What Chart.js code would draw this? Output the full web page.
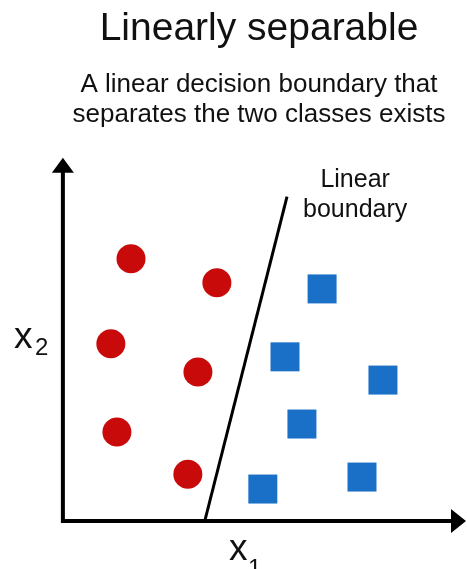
<!DOCTYPE html>
<html lang="en">

<head>
  <meta charset="UTF-8">
  <script src="https://cdn.jsdelivr.net/npm/chart.js@4.4.1/dist/chart.umd.min.js"></script>
  <title>Linearly separable</title>
  <style>
    body { margin: 0; background: #fff; }
  </style>
</head>

<body>
  <canvas id="myChart" width="467" height="569"></canvas>
  <script>
    // class 1 (red circles)
    const redX = [1.69, 3.82, 1.19, 3.35, 1.34, 3.10];
    const redY = [7.22, 6.56, 4.88, 4.10, 2.45, 1.29];
    // class 2 (blue squares)
    const blueX = [6.43, 5.51, 7.94, 5.93, 7.42, 4.96];
    const blueY = [6.39, 4.52, 3.88, 2.67, 1.21, 0.88];
    // decision boundary end points
    const boundaryX = [3.52, 5.56];
    const boundaryY = [0, 8.93];

    const titleText = 'Linearly separable';
    const subtitleText = ['A linear decision boundary that', 'separates the two classes exists'];
    const boundaryLabel = ['Linear', 'boundary'];
    const labelPos = { x: 7.25, y: 9.2 };

    const toPoints = (xs, ys) => xs.map((x, i) => ({ x: x, y: ys[i] }));
    const font = 'Liberation Sans, Arial, sans-serif';

    // axes with arrow heads + axis/boundary labels
    const arrowAxes = {
      id: 'arrowAxes',
      beforeDatasetsDraw(chart) {
        const ctx = chart.ctx;
        const xs = chart.scales.x, ys = chart.scales.y;
        const ox = xs.getPixelForValue(0), oy = ys.getPixelForValue(0);
        const top = chart.chartArea.top, right = chart.chartArea.right;
        ctx.save();
        ctx.strokeStyle = '#000';
        ctx.fillStyle = '#000';
        ctx.lineWidth = 4;
        ctx.beginPath();
        ctx.moveTo(ox, oy);
        ctx.lineTo(ox, top + 12);
        ctx.moveTo(ox - 2, oy);
        ctx.lineTo(right - 12, oy);
        ctx.stroke();
        ctx.beginPath();
        ctx.moveTo(ox, top);
        ctx.lineTo(ox - 11, top + 15);
        ctx.lineTo(ox + 11, top + 15);
        ctx.closePath();
        ctx.moveTo(right, oy);
        ctx.lineTo(right - 15, oy - 12);
        ctx.lineTo(right - 15, oy + 12);
        ctx.closePath();
        ctx.fill();
        ctx.restore();
      },
      afterDatasetsDraw(chart) {
        const ctx = chart.ctx;
        const xs = chart.scales.x, ys = chart.scales.y;
        ctx.save();
        ctx.fillStyle = '#111';
        ctx.textAlign = 'center';
        ctx.textBaseline = 'alphabetic';
        ctx.font = '25px ' + font;
        const lx = xs.getPixelForValue(labelPos.x), ly = ys.getPixelForValue(labelPos.y);
        ctx.fillText(boundaryLabel[0], lx, ly);
        ctx.fillText(boundaryLabel[1], lx, ly + 30);

        // x1 under the x axis, x2 left of the y axis
        ctx.textAlign = 'left';
        ctx.font = '37px ' + font;
        ctx.fillText('x', 229, 560);
        ctx.fillText('x', 14, 348);
        ctx.font = '24px ' + font;
        ctx.fillText('1', 248, 576);
        ctx.fillText('2', 35, 355);
        ctx.restore();
      }
    };

    new Chart('myChart', {
      type: 'scatter',
      data: {
        datasets: [{
          label: 'Class 1',
          data: toPoints(redX, redY),
          pointStyle: 'circle',
          pointRadius: 14.5,
          pointBorderWidth: 0,
          backgroundColor: '#c90a0a',
          borderColor: '#c90a0a'
        }, {
          label: 'Class 2',
          data: toPoints(blueX, blueY),
          pointStyle: 'rect',
          pointRadius: 20.5,
          pointBorderWidth: 0,
          backgroundColor: '#1a70c6',
          borderColor: '#1a70c6'
        }, {
          label: 'Linear boundary',
          data: toPoints(boundaryX, boundaryY),
          showLine: true,
          pointRadius: 0,
          borderWidth: 3,
          borderColor: '#000'
        }]
      },
      options: {
        responsive: false,
        animation: false,
        clip: false,
        layout: { autoPadding: false, padding: { left: 52, right: 1, bottom: 48, top: 0 } },
        scales: {
          x: { type: 'linear', min: -0.27, max: 10, display: false },
          y: { type: 'linear', min: 0, max: 10, display: false }
        },
        plugins: {
          legend: { display: false },
          tooltip: { enabled: false },
          title: {
            display: true,
            text: titleText,
            color: '#111',
            font: { family: font, size: 39, weight: 'normal', lineHeight: 1.2 },
            padding: { top: 6, bottom: 0 }
          },
          subtitle: {
            display: true,
            text: subtitleText,
            color: '#111',
            font: { family: font, size: 26, weight: 'normal', lineHeight: 30 / 26 },
            padding: { top: 17, bottom: 28 }
          }
        }
      },
      plugins: [arrowAxes]
    });
  </script>
</body>

</html>
